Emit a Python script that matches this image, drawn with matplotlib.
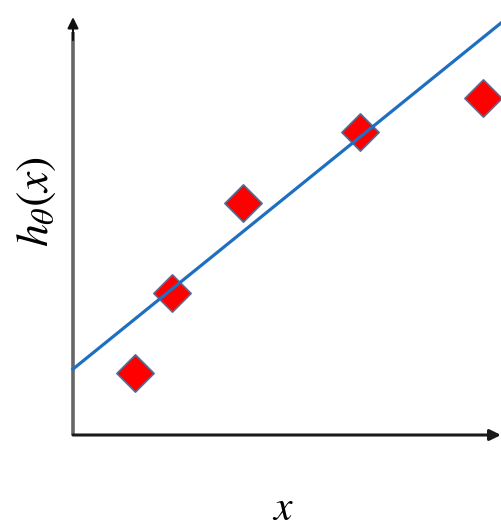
import matplotlib.pyplot as plt

plt.rcParams['mathtext.fontset'] = 'stix'

# sample points
x_pts = [1.45, 2.31, 3.97, 6.71, 9.58]
y_pts = [1.48, 3.38, 5.52, 7.21, 8.02]

# hypothesis h(x) = theta0 + theta1 * x
theta0 = 1.57
theta1 = 0.824
x_line = [0, 10]

fig = plt.figure(figsize=(5.01, 5.29), dpi=100)
ax = fig.add_axes([73 / 501, (529 - 435) / 529, 428 / 501, 420 / 529])
ax.set_xlim(0, 10)
ax.set_ylim(0, 10)
ax.axis('off')

y_line = [theta0 + theta1 * v for v in x_line]
ax.plot(x_line, y_line, color='#1f6fc0', lw=2.3, zorder=3, clip_on=False)
ax.scatter(x_pts, y_pts, marker='D', s=360, color='#ff0000',
           edgecolors='#5a6a90', linewidths=1.2, zorder=2, clip_on=False)

# axes arrows
head = '-|>,head_length=0.65,head_width=0.32'
ax.annotate('', xy=(10, 0), xytext=(0, 0), xycoords='data',
            arrowprops=dict(arrowstyle=head, color='#1a1a1a', lw=2.2,
                            shrinkA=0, shrinkB=0),
            annotation_clip=False)
# y axis: grey shaft, black head
ax.plot([0, 0], [0, 9.6], color='#666666', lw=2.6, clip_on=False,
        solid_capstyle='butt')
ax.annotate('', xy=(0, 9.95), xytext=(0, 9.4), xycoords='data',
            arrowprops=dict(arrowstyle=head, color='#111111', lw=1.5,
                            shrinkA=0, shrinkB=0),
            annotation_clip=False)

fig.text(35 / 501, 1 - 201 / 529, r'$h_\theta(x)$', rotation=90,
         ha='center', va='center', fontsize=33)
fig.text(283 / 501, 1 - 508 / 529, r'$x$', ha='center', va='center', fontsize=30)

fig.savefig('out.png', dpi=100)
